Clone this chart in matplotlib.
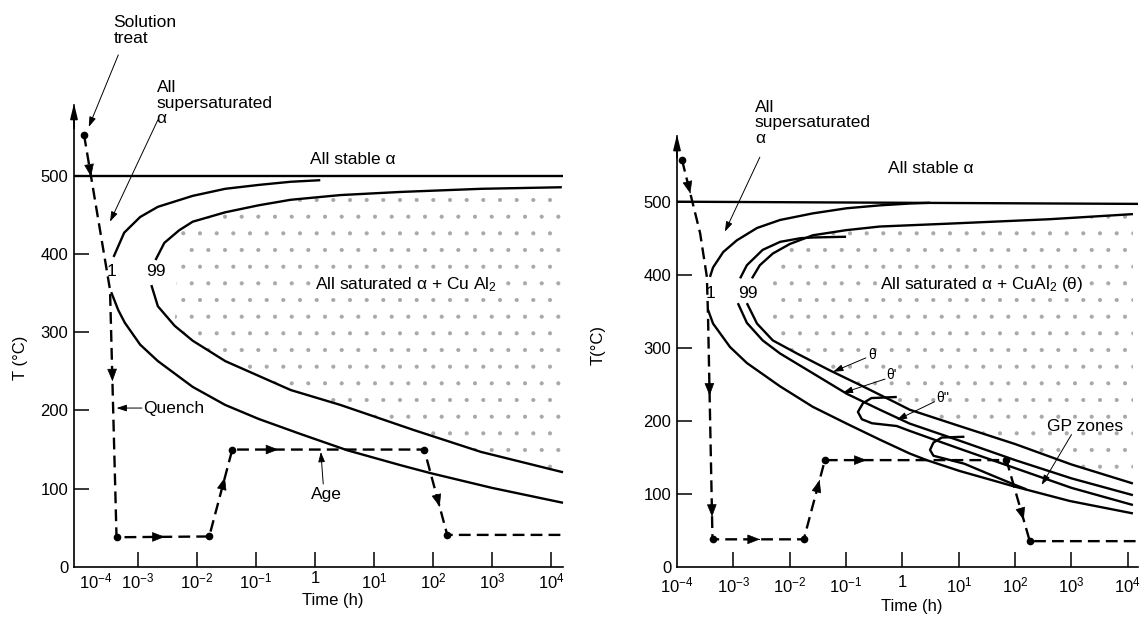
import numpy as np
import matplotlib
matplotlib.use("Agg")
import matplotlib.pyplot as plt

plt.rcParams.update({
    "font.family": ["Liberation Sans", "DejaVu Sans"],
    "mathtext.fontset": "custom",
    "mathtext.rm": "Liberation Sans",
    "mathtext.it": "Liberation Sans:italic",
    "mathtext.bf": "Liberation Sans:bold",
    "hatch.linewidth": 0.5,
})

# ---------------- data (log10 time in h, temperature in C) ----------------
XTICK_LOG = [-4, -3, -2, -1, 0, 1, 2, 3, 4]
XTICK_LABELS = ["$10^{-4}$", "$10^{-3}$", "$10^{-2}$", "$10^{-1}$", "1",
                "$10^{1}$", "$10^{2}$", "$10^{3}$", "$10^{4}$"]
YTICKS = [0, 100, 200, 300, 400, 500]

# left panel
L_stable_logt = [-4.08, 4.2]
L_stable_T = [500, 500]
L_c1_up_logt = [-3.41, -3.23, -2.96, -2.66, -2.07, -1.52, -0.95, -0.41, 0.09]
L_c1_up_T = [396, 427, 447, 460, 474, 483, 488, 492, 494]
L_c1_lo_logt = [-3.45, -3.33, -3.22, -2.96, -2.66, -2.07, -1.52, -0.95, -0.25, 0.55, 1.45, 1.95, 3.0, 4.2]
L_c1_lo_T = [351, 328, 312, 284, 263, 230, 207, 189, 170, 149, 130, 120, 101, 82]
L_c99_up_logt = [-2.70, -2.55, -2.30, -2.07, -1.52, -0.95, -0.41, 0.43, 1.45, 2.81, 4.18]
L_c99_up_T = [392, 414, 430, 441, 453, 462, 469, 475, 479, 483, 485]
L_c99_lo_logt = [-2.77, -2.66, -2.375, -2.07, -1.52, -0.95, -0.41, 0.43, 1.67, 2.81, 4.2]
L_c99_lo_T = [360, 333, 308, 289, 263, 244, 226, 207, 175, 147, 121]
L_path_logt = [-3.91, -3.47, -3.36, -1.79, -1.40, 1.85, 2.24, 4.2]
L_path_T = [552, 354, 38, 39, 150, 150, 41, 41]
L_path_dots = [0, 2, 3, 4, 5, 6]
L_path_arrows = [(0, 0.27), (1, 0.37), (2, 0.52), (3, 0.68), (4, 0.24), (5, 0.67)]

# right panel
R_stable_logt = [-4.0, 4.18]
R_stable_T = [500, 497]
R_c1_up_logt = [-3.415, -3.36, -3.18, -2.94, -2.58, -2.17, -1.59, -0.99, -0.40, 0.13, 0.49]
R_c1_up_T = [397, 410, 431, 447, 464, 475, 484, 491, 495, 497.5, 498.5]
R_c1_lo_logt = [-3.45, -3.36, -3.06, -2.76, -2.17, -1.59, -0.99, -0.40, 0.13, 0.43, 1.02, 1.98, 2.97, 4.09]
R_c1_lo_T = [352, 333, 301, 279, 247, 219, 196, 174, 155, 146, 131, 110, 90, 73]
R_thp_up_logt = [-2.88, -2.76, -2.48, -2.17, -1.81, -1.58, -1.0]
R_thp_up_T = [395, 413, 434, 445, 450, 451, 452]
R_th_up_logt = [-2.67, -2.53, -2.30, -2.0, -1.59, -1.0, -0.40, 0.84, 2.61, 4.09]
R_th_up_T = [395, 413, 429, 442, 454, 461, 466, 470, 476, 483]
R_thp_lo_logt = [-2.92, -2.76, -2.48, -2.17, -1.59, -0.99, -0.40, 0.13, 1.0, 2.0, 3.0, 4.09]
R_thp_lo_T = [361, 334, 310, 292, 265, 237, 215, 196, 173, 146, 121, 98]
R_th_lo_logt = [-2.76, -2.58, -2.30, -1.87, -1.29, -0.70, -0.10, 0.13, 1.0, 2.0, 3.0, 4.09]
R_th_lo_T = [361, 333, 310, 292, 269, 247, 224, 215, 193, 168, 140, 114]
R_thpp_logt = [-0.10, -0.55, -0.70, -0.79, -0.72, -0.54, -0.10, 0.13, 1.0, 2.0, 3.0, 4.09]
R_thpp_T = [232.5, 231, 224, 212, 202, 196.5, 192.7, 186, 162, 135, 108, 84.5]
R_gp_logt = [1.10, 0.70, 0.55, 0.49, 0.55, 0.75, 1.10, 1.5, 2.0, 2.2]
R_gp_T = [178, 177, 170, 160, 152, 148, 141, 128, 112, 106]
R_path_logt = [-3.91, -3.59, -3.47, -3.45, -3.37, -1.75, -1.376, 1.846, 2.26, 4.18]
R_path_T = [557, 457, 397, 345, 37.5, 37.5, 146, 146, 35, 35]
R_path_dots = [0, 4, 5, 6, 7, 8]
R_path_arrows = [(0, 0.46), (3, 0.36), (3, 0.90), (4, 0.52), (5, 0.75), (6, 0.23), (7, 0.74)]

# ---------------- figure ----------------
W, H = 1145, 619
fig = plt.figure(figsize=(W / 100, H / 100), dpi=100)


def add_ax(x0, x1, ybot, ytop):
    return fig.add_axes([x0 / W, 1 - ybot / H, (x1 - x0) / W, (ybot - ytop) / H])


axL = add_ax(74, 563, 567, 567 - 590 * 0.783)
axR = add_ax(677, 1138, 566.7, 566.7 - 590 * 0.73)

LW = 1.7
FS = 12.5
WHITE_BOX = dict(facecolor="white", edgecolor="none", pad=1.5)


def P(lx):
    return 10 ** np.asarray(lx, dtype=float)


def setup(ax, xmin_log, xmax_log, xpad):
    ax.set_xscale("log")
    ax.set_xlim(10 ** xmin_log, 10 ** xmax_log)
    ax.set_ylim(0, 590)
    for s in ("top", "right"):
        ax.spines[s].set_visible(False)
    for s in ("left", "bottom"):
        ax.spines[s].set_linewidth(1.2)
    ax.xaxis.set_minor_locator(matplotlib.ticker.NullLocator())
    ax.set_xticks(P(XTICK_LOG))
    ax.set_xticklabels(XTICK_LABELS)
    ax.set_yticks(YTICKS)
    ax.set_yticklabels([str(v) for v in YTICKS])
    ax.tick_params(direction="in", length=11, width=1.1, labelsize=12)
    ax.tick_params(axis="x", pad=xpad)
    ax.tick_params(axis="y", pad=4)
    ax.xaxis.get_major_ticks()[0].tick1line.set_visible(False)
    ax.yaxis.get_major_ticks()[0].tick1line.set_visible(False)
    ax.annotate("", xy=(10 ** xmin_log, 592), xytext=(10 ** xmin_log, 560),
                arrowprops=dict(arrowstyle="-|>,head_length=0.9,head_width=0.22",
                                color="k", lw=1.2, shrinkA=0, shrinkB=0),
                annotation_clip=False)


def curve(ax, lx, T):
    ax.plot(P(lx), T, color="k", lw=LW, solid_capstyle="butt", clip_on=False)


def stipple(ax, up_lx, up_T, lo_lx, lo_T):
    xs = np.concatenate([P(up_lx), P(lo_lx)[::-1]])
    ys = np.concatenate([up_T, lo_T[::-1]])
    ax.fill(xs, ys, facecolor="none", edgecolor="#a8a8a8", lw=0, hatch=".")


def path(ax, lx, T, dots, arrows):
    ax.plot(P(lx), T, color="k", lw=LW, dashes=(5, 2.6), clip_on=False)
    ax.plot(P([lx[i] for i in dots]), [T[i] for i in dots], "o", color="k", ms=4.5,
            clip_on=False)
    for seg, f in arrows:
        x0, y0, x1, y1 = lx[seg], T[seg], lx[seg + 1], T[seg + 1]
        xm, ym = x0 + f * (x1 - x0), y0 + f * (y1 - y0)
        xb, yb = xm - 0.01 * (x1 - x0), ym - 0.01 * (y1 - y0)
        ax.annotate("", xy=(10 ** xm, ym), xytext=(10 ** xb, yb),
                    arrowprops=dict(arrowstyle="-|>,head_length=0.9,head_width=0.35",
                                    color="k", lw=0.5, shrinkA=0, shrinkB=0,
                                    mutation_scale=9))


def leader(ax, x0, y0, x1, y1, head=True):
    style = "-|>,head_length=0.6,head_width=0.2" if head else "-"
    ax.annotate("", xy=(10 ** x1, y1), xytext=(10 ** x0, y0),
                arrowprops=dict(arrowstyle=style, color="k", lw=0.7,
                                shrinkA=0, shrinkB=0, mutation_scale=10),
                annotation_clip=False)


# ---------------- left panel ----------------
setup(axL, -4.08, 4.2, 3)
axL.get_xticklabels()[0].set_horizontalalignment("left")
stipple(axL, L_c99_up_logt[2:], np.array(L_c99_up_T[2:]),
        L_c99_lo_logt[2:], np.array(L_c99_lo_T[2:]))
curve(axL, L_stable_logt, L_stable_T)
curve(axL, L_c1_up_logt, L_c1_up_T)
curve(axL, L_c1_lo_logt, L_c1_lo_T)
curve(axL, L_c99_up_logt, L_c99_up_T)
curve(axL, L_c99_lo_logt, L_c99_lo_T)
path(axL, L_path_logt, L_path_T, L_path_dots, L_path_arrows)

axL.text(10 ** -0.08, 520, "All stable α", fontsize=FS, ha="left", va="center")
axL.text(10 ** 0.0, 360, "All saturated α + Cu Al$_2$", fontsize=FS, ha="left", va="center",
         bbox=WHITE_BOX)
axL.text(10 ** -3.44, 377, "1", fontsize=FS, ha="center", va="center")
axL.text(10 ** -2.69, 377, "99", fontsize=FS, ha="center", va="center")
axL.text(10 ** -3.41, 705, "Solution\ntreat", fontsize=FS, ha="left", va="top",
         linespacing=1.05, clip_on=False)
leader(axL, -3.33, 654, -3.83, 562)
axL.text(10 ** -2.68, 622, "All\nsupersaturated\nα", fontsize=FS, ha="left", va="top",
         linespacing=1.05, clip_on=False)
leader(axL, -2.66, 571, -3.47, 441)
axL.text(10 ** -2.91, 203, "Quench", fontsize=FS, ha="left", va="center")
leader(axL, -2.93, 203, -3.36, 203)
axL.text(10 ** 0.19, 92, "Age", fontsize=FS, ha="center", va="center")
leader(axL, 0.14, 106, 0.10, 147)

fig.text(20 / W, 1 - 358 / H, "T (°C)", rotation=90, fontsize=12, ha="center", va="center")
fig.text(333 / W, 1 - 600 / H, "Time (h)", fontsize=12, ha="center", va="center")

# ---------------- right panel ----------------
setup(axR, -4.0, 4.18, 6)
stipple(axR, R_th_up_logt[2:], np.array(R_th_up_T[2:]),
        R_th_lo_logt[2:], np.array(R_th_lo_T[2:]))
curve(axR, R_stable_logt, R_stable_T)
curve(axR, R_c1_up_logt, R_c1_up_T)
curve(axR, R_c1_lo_logt, R_c1_lo_T)
curve(axR, R_thp_up_logt, R_thp_up_T)
curve(axR, R_th_up_logt, R_th_up_T)
curve(axR, R_thp_lo_logt, R_thp_lo_T)
curve(axR, R_th_lo_logt, R_th_lo_T)
curve(axR, R_thpp_logt, R_thpp_T)
curve(axR, R_gp_logt, R_gp_T)
path(axR, R_path_logt, R_path_T, R_path_dots, R_path_arrows)

axR.text(10 ** -0.26, 546, "All stable α", fontsize=FS, ha="left", va="center")
axR.text(10 ** -0.40, 386, "All saturated α + CuAl$_2$ (θ)", fontsize=FS, ha="left",
         va="center", bbox=WHITE_BOX)
axR.text(10 ** -3.41, 374.5, "1", fontsize=FS, ha="center", va="center")
axR.text(10 ** -2.74, 374.5, "99", fontsize=FS, ha="center", va="center")
axR.text(10 ** -2.62, 640, "All\nsupersaturated\nα", fontsize=FS, ha="left", va="top",
         linespacing=1.05, clip_on=False)
leader(axR, -2.53, 561, -3.15, 459)
axR.text(10 ** -0.54, 290, "θ", fontsize=10, ha="center", va="center")
leader(axR, -0.65, 286, -1.23, 267)
axR.text(10 ** -0.19, 263, "θ'", fontsize=10, ha="center", va="center")
leader(axR, -0.31, 257, -1.06, 238)
axR.text(10 ** 0.72, 231, "θ''", fontsize=10, ha="center", va="center")
leader(axR, 0.57, 226, -0.10, 201)
axR.text(10 ** 2.56, 192, "GP zones", fontsize=FS, ha="left", va="center")
leader(axR, 3.0, 181, 2.47, 112)

fig.text(598 / W, 1 - 345 / H, "T(°C)", rotation=90, fontsize=12, ha="center", va="center")
fig.text(912 / W, 1 - 607 / H, "Time (h)", fontsize=12, ha="center", va="center")

fig.savefig("out.png", dpi=100, facecolor="white")
